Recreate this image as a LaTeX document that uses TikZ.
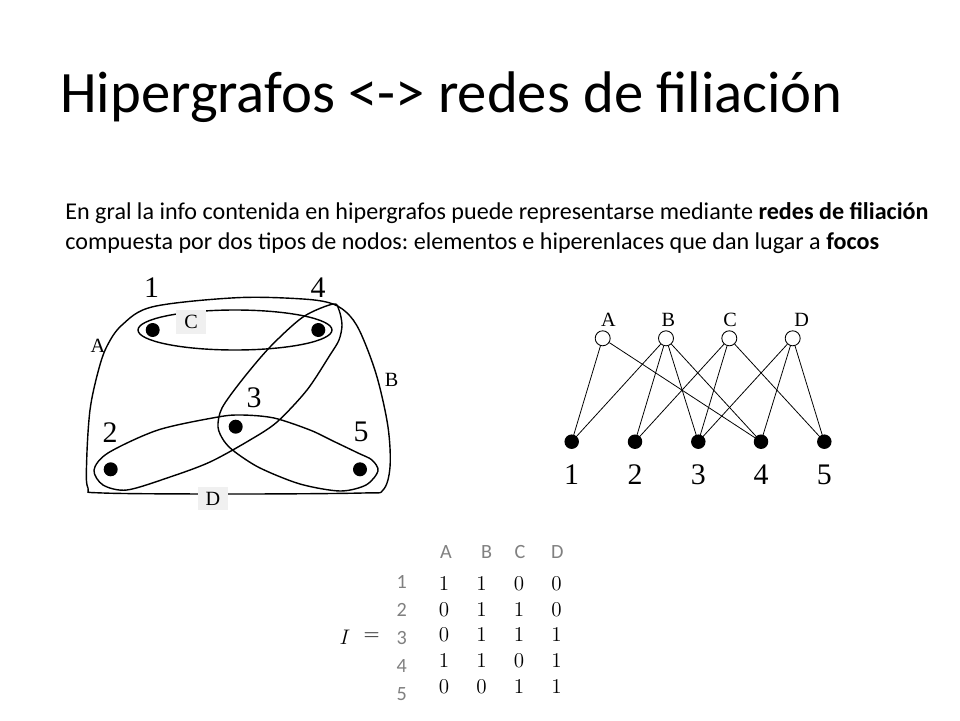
\documentclass[tikz,border=0pt]{standalone}
\usepackage{fontspec}
\setmainfont{Carlito}
\newfontfamily\timesfont{Liberation Serif}
\usetikzlibrary{positioning}
\frenchspacing

\tikzset{
  hedge/.style={line width=0.8pt},
  link/.style={line width=0.45pt},
  bullet/.style={circle,fill=black,inner sep=0pt,minimum size=0.28cm},
  hollow/.style={circle,draw,fill=white,inner sep=0pt,minimum size=0.3cm,line width=0.5pt},
  numlabel/.style={font=\timesfont\fontsize{17}{17}\selectfont,inner sep=0pt},
  letlabel/.style={font=\timesfont\fontsize{11.5}{11.5}\selectfont,inner sep=0pt},
  tag/.style={letlabel,fill=gray!12,minimum width=0.6cm,minimum height=0.47cm},
  headlabel/.style={font=\fontsize{11.5}{11.5}\selectfont,text=gray,inner sep=0pt},
  entry/.style={font=\fontsize{12.8}{12.8}\selectfont,inner sep=0pt}
}

\begin{document}
\begin{tikzpicture}[x=0.02cm,y=-0.02cm]
\useasboundingbox (0,0) rectangle (960,720);

% title and intro
\node[anchor=base west,inner sep=0pt,font=\fontsize{33.4}{33.4}\selectfont] (title) at (60,112) {Hipergrafos <-> redes de filiación};
\node[anchor=west,align=left,inner sep=0pt,font=\fontsize{13.72}{17}\selectfont] (intro) at (65,228)
  {En gral la info contenida en hipergrafos puede representarse mediante \textbf{redes de filiación}\\
   compuesta por dos tipos de nodos: elementos e hiperenlaces que dan lugar a \textbf{focos}};

% hypergraph
\draw[hedge] plot[smooth cycle,tension=0.55] coordinates {
  (106.7,346.7) (122,325) (153,306.7) (236.7,297.7) (303,299) (333,304)
  (350,316) (362,336) (377,377) (388,427) (390,467) (383,490) (363,493)
  (236,494) (103,493) (88,488) (86.7,460) (90,410) (98,372)};
\draw[hedge] (235,330) ellipse (97 and 20);
\draw[hedge] plot[smooth cycle,tension=0.5] coordinates {
  (333,304) (303,317) (270,347) (242,380) (222,408) (218,427) (224,441)
  (235,452) (260,468) (300,484) (340,491) (366,485) (378,471) (372,460)
  (358,453) (333,441) (310,430) (274,418) (242,415) (218,417) (158,430)
  (108,453) (94,470) (103,485) (127,490) (170,477) (210,462) (250,440)
  (277,422) (307,390) (330,355) (339,340) (342,325) (339,310)};

\node[bullet] (h1) at (152.7,330) {};
\node[bullet] (h2) at (110.7,469.3) {};
\node[bullet] (h3) at (235.7,426.7) {};
\node[bullet] (h4) at (318.3,330) {};
\node[bullet] (h5) at (360,469.3) {};
\node[numlabel] (n1) at (151.7,288) {1};
\node[numlabel] (n2) at (110,433) {2};
\node[numlabel] (n3) at (254,398) {3};
\node[numlabel] (n4) at (318,288) {4};
\node[numlabel] (n5) at (361,432) {5};
\node[letlabel] (hA) at (98,346) {A};
\node[letlabel] (hB) at (391.7,380) {B};
\node[tag] (hC) at (191,322) {C};
\node[tag] (hD) at (213,498.5) {D};

% filiation network
\foreach \f/\x/\d in {A/602.7/5.6,B/666/2.3,C/729.3/0.7,D/792.7/9}{
  \node[hollow] (f\f) at (\x,338.3) {};
  \node[letlabel] (t\f) at (\x+\d,320) {\f};
}
\foreach \e/\x in {1/571.7,2/635,3/698.3,4/761,5/824.3}{
  \node[bullet,minimum size=0.29cm] (e\e) at (\x,441.7) {};
  \node[numlabel] (l\e) at (\x,475) {\e};
}
\foreach \f/\e in {A/1,A/4,B/1,B/2,B/3,B/4,C/2,C/3,C/5,D/3,D/4,D/5}
  \draw[link] (f\f) -- (e\e.center);

% incidence matrix
\node[entry] (mI) at (345,637) {$I$};
\node[entry] (meq) at (371.7,637) {$=$};
\foreach \c/\x in {A/446,B/486.7,C/520,D/557.3}
  \node[headlabel] (c\c) at (\x,551.7) {\c};
\foreach \r in {1,...,5}
  \node[headlabel] (r\r) at (401.7,{581.7+28.2*(\r-1)}) {\r};
\foreach \row [count=\i] in {{1,1,0,0},{0,1,1,0},{0,1,1,1},{1,1,0,1},{0,0,1,1}}
  \foreach \v [count=\j] in \row
    \node[entry] (m\i\j) at ({444+37.5*(\j-1)},{583.5+25.8*(\i-1)}) {$\v$};
\end{tikzpicture}
\end{document}
